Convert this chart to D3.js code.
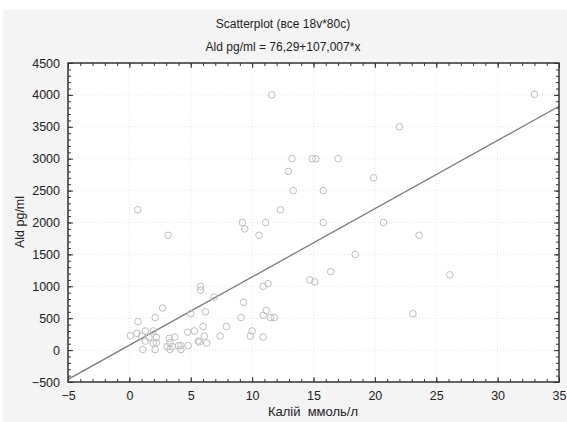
<!DOCTYPE html>
<html><head><meta charset="utf-8">
<script src="https://cdn.jsdelivr.net/npm/d3@7"></script>
<style>body{margin:0;background:#fff}svg{display:block}text{font-family:"Liberation Sans",Arial,sans-serif}</style>
</head><body>
<script>
const title = "Scatterplot (все 18v*80c)";
const subtitle = "Ald pg/ml = 76,29+107,007*x";
const xLabel = "Калій  ммоль/л";
const yLabel = "Ald pg/ml";
const xTicks = [-5, 0, 5, 10, 15, 20, 25, 30, 35];
const yTicks = [-500, 0, 500, 1000, 1500, 2000, 2500, 3000, 3500, 4000, 4500];
const intercept = 76.29;
const slope = 107.007;
const kalii = [33,11.6,13.25,12.95,13.35,0.68,12.3,9.2,11.1,22,14.9,15.2,17,19.9,15.8,15.8,20.7,
  9.4,10.56,3.15,23.6,18.4,16.4,14.7,15.1,26.1,23.1,
  10.9,11.3,11.15,10.9,11.5,11.8,10.9,
  5.8,5.8,6.9,9.3,2.7,6.2,5.0,2.1,9.1,0.7,7.9,6.0,10.0,1.3,1.95,5.3,4.75,0.6,0.08,6.1,7.4,9.85,3.7,1.0,1.6,2.2,3.25,1.3,2.2,3.3,5.6,5.7,6.3,1.95,3.07,3.5,4.0,4.2,4.8,1.1,2.1,3.3,4.2];
const ald = [4010,4000,3000,2800,2500,2200,2200,2000,2000,3500,3000,3000,3000,2700,2500,2000,2000,
  1900,1800,1800,1800,1500,1230,1100,1070,1180,570,
  1000,1040,620,545,510,510,205,
  1000,940,830,750,660,600,570,510,510,445,370,370,300,300,300,300,280,263,226,220,220,220,205,220,200,200,185,140,115,115,143,127,111,107,53,53,70,70,70,10,10,10,10];

const W = 567, H = 422;
const m = {l: 68, r: 559, t: 63, b: 382};
const svg = d3.select("body").append("svg").attr("width", W).attr("height", H);
svg.append("rect").attr("x", 3).attr("y", 10).attr("width", W - 3).attr("height", H - 10).attr("fill", "#f4f4f4");
svg.append("rect").attr("x", m.l).attr("y", m.t).attr("width", m.r - m.l).attr("height", m.b - m.t).attr("fill", "#fff");

const x = d3.scaleLinear().domain([-5, 35]).range([m.l, m.r]);
const y = d3.scaleLinear().domain([-500, 4500]).range([m.b, m.t]);

// grid
const g = svg.append("g").attr("stroke", "#e6e6e6").attr("stroke-dasharray", "1,2").attr("stroke-width", 1);
xTicks.slice(1, -1).forEach(v => g.append("line").attr("x1", x(v)).attr("x2", x(v)).attr("y1", m.t).attr("y2", m.b));
yTicks.slice(1, -1).forEach(v => g.append("line").attr("y1", y(v)).attr("y2", y(v)).attr("x1", m.l).attr("x2", m.r));

// minor/major ticks via axes
const xMinor = d3.range(-5, 35.01, 1), yMinor = d3.range(-500, 4500.01, 100);
function axisStyle(sel){ sel.select(".domain").remove(); sel.selectAll("line").attr("stroke", "#333"); sel.selectAll("text").remove(); }
svg.append("g").attr("transform", `translate(0,${m.b})`).call(d3.axisTop(x).tickValues(xMinor).tickSize(3)).call(axisStyle);
svg.append("g").attr("transform", `translate(0,${m.b})`).call(d3.axisTop(x).tickValues(xTicks).tickSize(5)).call(axisStyle);
svg.append("g").attr("transform", `translate(0,${m.t})`).call(d3.axisBottom(x).tickValues(xMinor).tickSize(3)).call(axisStyle);
svg.append("g").attr("transform", `translate(0,${m.t})`).call(d3.axisBottom(x).tickValues(xTicks).tickSize(5)).call(axisStyle);
svg.append("g").attr("transform", `translate(${m.l},0)`).call(d3.axisRight(y).tickValues(yMinor).tickSize(3)).call(axisStyle);
svg.append("g").attr("transform", `translate(${m.l},0)`).call(d3.axisRight(y).tickValues(yTicks).tickSize(5)).call(axisStyle);
svg.append("g").attr("transform", `translate(${m.r},0)`).call(d3.axisLeft(y).tickValues(yMinor).tickSize(3)).call(axisStyle);
svg.append("g").attr("transform", `translate(${m.r},0)`).call(d3.axisLeft(y).tickValues(yTicks).tickSize(5)).call(axisStyle);

// tick labels
const xl = svg.append("g").attr("transform", `translate(0,${m.b + 6})`).call(d3.axisBottom(x).tickValues(xTicks).tickSize(0).tickFormat(d3.format("d")));
xl.select(".domain").remove();
xl.selectAll("text").attr("font-size", 12.5).attr("fill", "#222").attr("font-family", "Liberation Sans, Arial, sans-serif");
const yl = svg.append("g").attr("transform", `translate(${m.l - 5},0)`).call(d3.axisLeft(y).tickValues(yTicks).tickSize(0).tickFormat(d3.format("d")));
yl.select(".domain").remove();
yl.selectAll("text").attr("font-size", 12.5).attr("fill", "#222").attr("font-family", "Liberation Sans, Arial, sans-serif");

// regression line
svg.append("line").attr("x1", x(-5)).attr("y1", y(intercept + slope * -5)).attr("x2", x(35)).attr("y2", y(intercept + slope * 35))
  .attr("stroke", "#7a7a7a").attr("stroke-width", 1.3);

// points
svg.append("g").selectAll("circle").data(kalii.map((k, i) => [k, ald[i]])).join("circle")
  .attr("cx", d => x(d[0])).attr("cy", d => y(d[1])).attr("r", 3.3)
  .attr("fill", "none").attr("stroke", "#bdbdbd").attr("stroke-width", 1);

// frame
svg.append("rect").attr("x", m.l).attr("y", m.t).attr("width", m.r - m.l).attr("height", m.b - m.t)
  .attr("fill", "none").attr("stroke", "#333").attr("stroke-width", 1.5);

svg.append("text").attr("x", 283).attr("y", 28).attr("text-anchor", "middle").attr("font-size", 12).attr("fill", "#222").text(title);
svg.append("text").attr("x", 283).attr("y", 51).attr("text-anchor", "middle").attr("font-size", 12).attr("fill", "#222").text(subtitle);
svg.append("text").attr("x", 313).attr("y", 416).attr("text-anchor", "middle").attr("font-size", 13).attr("fill", "#222").attr("xml:space", "preserve").style("white-space", "pre").text(xLabel);
svg.append("text").attr("transform", "translate(24,222) rotate(-90)").attr("text-anchor", "middle").attr("font-size", 12.5).attr("fill", "#222").text(yLabel);
</script>
</body></html>
